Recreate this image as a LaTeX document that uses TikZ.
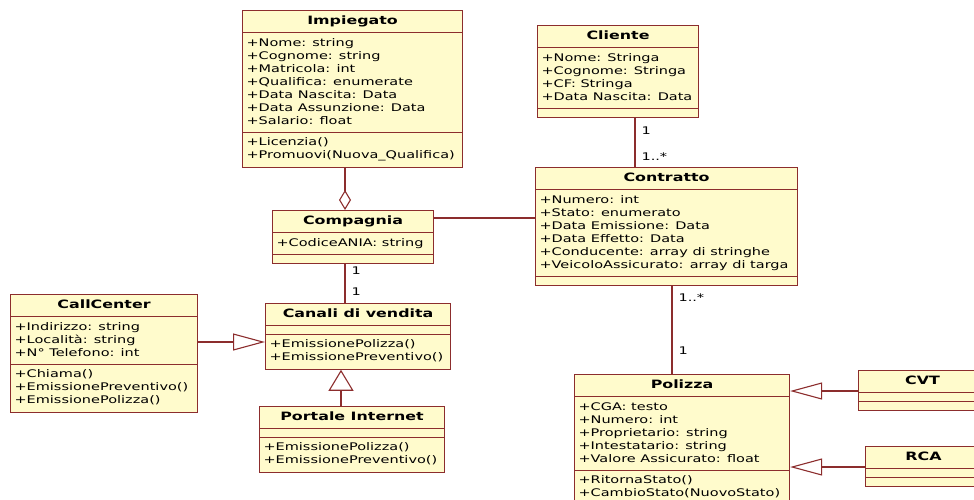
\documentclass[tikz,border=0pt]{standalone}
\usepackage{fontspec}
\usetikzlibrary{shapes.multipart,arrows.meta}
\newfontfamily\umlfont[FakeStretch=1.38]{DejaVu Sans}
\definecolor{bordo}{RGB}{140,45,45}
\definecolor{sfondo}{RGB}{255,251,204}
\newcommand{\titolo}[1]{\strut{\fontsize{11.5}{13}\selectfont\textbf{#1}}}
\newcommand{\campi}[1]{\begin{tabular}{@{}l@{}}#1\end{tabular}}
\newcommand{\vuoto}{\kern0.1pt}
\tikzset{
  classe/.style={rectangle split, rectangle split parts=3,
    rectangle split part align={center,left,left},
    draw=bordo, fill=sfondo, line width=1.1pt, anchor=north west,
    inner xsep=4pt, inner ysep=3.9pt,
    font=\umlfont\fontsize{10.5}{13}\selectfont},
  legame/.style={draw=bordo, line width=1.1pt},
  eredita/.style={legame, -{Triangle[open,length=32pt,width=17pt,fill=white]}},
  ereditav/.style={legame, -{Triangle[open,length=21pt,width=25pt,fill=white]}},
  aggrega/.style={legame, -{Diamond[open,length=20pt,width=12pt,fill=white]}},
  molt/.style={font=\umlfont\fontsize{10.5}{13}\selectfont, inner sep=1pt, right=5pt},
}
\begin{document}
\begin{tikzpicture}[x=1pt,y=-1pt]
  \useasboundingbox (0,0) rectangle (974,499);
  \clip (0,0) rectangle (974,499);
  % classi
  \node[classe, minimum width=220pt] (impiegato) at (242,10) {\titolo{Impiegato}
    \nodepart{two}\campi{+Nome: string\\+Cognome: string\\+Matricola: int\\
      +Qualifica: enumerate\\+Data Nascita: Data\\+Data Assunzione: Data\\+Salario: float}
    \nodepart{three}\campi{+Licenzia()\\+Promuovi(Nuova\_Qualifica)}};
  \node[classe, minimum width=161pt] (compagnia) at (272,210) {\titolo{Compagnia}
    \nodepart{two}\campi{+CodiceANIA: string}
    \nodepart{three}\vuoto};
  \node[classe, minimum width=161pt] (cliente) at (537,25) {\titolo{Cliente}
    \nodepart{two}\campi{+Nome: Stringa\\+Cognome: Stringa\\+CF: Stringa\\+Data Nascita: Data}
    \nodepart{three}\vuoto};
  \node[classe, minimum width=262pt] (contratto) at (535,167) {\titolo{Contratto}
    \nodepart{two}\campi{+Numero: int\\+Stato: enumerato\\+Data Emissione: Data\\
      +Data Effetto: Data\\+Conducente: array di stringhe\\+VeicoloAssicurato: array di targa}
    \nodepart{three}\vuoto};
  \node[classe, minimum width=215pt] (polizza) at (574,374) {\titolo{Polizza}
    \nodepart{two}\campi{+CGA: testo\\+Numero: int\\+Proprietario: string\\
      +Intestatario: string\\+Valore Assicurato: float}
    \nodepart{three}\campi{+RitornaStato()\\+CambioStato(NuovoStato)}};
  \node[classe, minimum width=187pt] (callcenter) at (10,294) {\titolo{CallCenter}
    \nodepart{two}\campi{+Indirizzo: string\\+Località: string\\+N° Telefono: int}
    \nodepart{three}\campi{+Chiama()\\+EmissionePreventivo()\\+EmissionePolizza()}};
  \node[classe, minimum width=185pt] (canali) at (265,303) {\titolo{Canali di vendita}
    \nodepart{two}\vuoto
    \nodepart{three}\campi{+EmissionePolizza()\\+EmissionePreventivo()}};
  \node[classe, minimum width=185pt] (portale) at (259,406) {\titolo{Portale Internet}
    \nodepart{two}\vuoto
    \nodepart{three}\campi{+EmissionePolizza()\\+EmissionePreventivo()}};
  \node[classe, minimum width=128pt] (cvt) at (858,370) {\titolo{CVT}
    \nodepart{two}\vuoto
    \nodepart{three}\vuoto};
  \node[classe, minimum width=116pt] (rca) at (865,446) {\titolo{RCA}
    \nodepart{two}\vuoto
    \nodepart{three}\vuoto};
  % collegamenti
  \coordinate (xagg) at (345,0);
  \coordinate (xport) at (341,0);
  \coordinate (xcli) at (635,0);
  \coordinate (xpol) at (672,0);
  \coordinate (yass) at (0,218);
  \coordinate (ycall) at (0,342);
  \coordinate (ycvt) at (0,391);
  \coordinate (yrca) at (0,467);
  \draw[aggrega] (impiegato.south -| xagg) -- (compagnia.north -| xagg);
  \draw[legame] (compagnia.east |- yass) -- (contratto.west |- yass);
  \draw[legame] (cliente.south -| xcli) -- node[molt,pos=.26] {1} node[molt,pos=.78] {1..*} (contratto.north -| xcli);
  \draw[legame] (compagnia.south -| xagg) -- node[molt,pos=.18] {1} node[molt,pos=.72] {1} (canali.north -| xagg);
  \draw[legame] (contratto.south -| xpol) -- node[molt,pos=.13] {1..*} node[molt,pos=.74] {1} (polizza.north -| xpol);
  \draw[eredita] (callcenter.east |- ycall) -- (canali.west |- ycall);
  \draw[ereditav] (portale.north -| xport) -- (canali.south -| xport);
  \draw[eredita] (cvt.west |- ycvt) -- (polizza.east |- ycvt);
  \draw[eredita] (rca.west |- yrca) -- (polizza.east |- yrca);
\end{tikzpicture}
\end{document}
